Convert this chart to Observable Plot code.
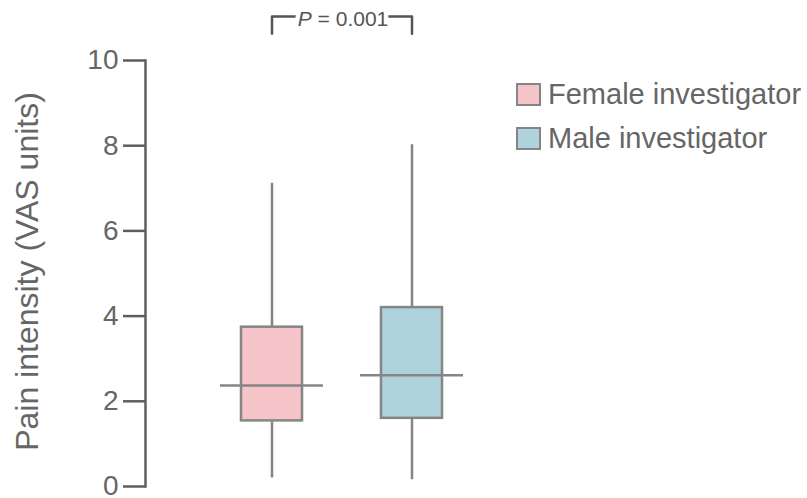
<!DOCTYPE html>
<html><head><meta charset="utf-8">
<script src="https://cdn.jsdelivr.net/npm/d3@7"></script>
<script src="https://cdn.jsdelivr.net/npm/@observablehq/plot@0.6"></script>
<style>
body{margin:0;background:#fff;font-family:"Liberation Sans",Arial,sans-serif;}
#wrap{position:relative;width:807px;height:498px;}
#legend{position:absolute;left:516px;top:72px;}
.item{display:flex;align-items:center;height:44px;font-size:29px;color:#666;white-space:nowrap;}
.sw{width:25px;height:23px;box-sizing:border-box;border:2.5px solid #858585;margin-right:7px;}
</style></head><body><div id="wrap"></div>
<script>
const groups = ["Female investigator", "Male investigator"];
const q1 = [1.54, 1.60];
const median = [2.37, 2.61];
const q3 = [3.74, 4.20];
const whiskerLow = [0.20, 0.16];
const whiskerHigh = [7.12, 8.02];
const colors = ["#f4c4c8", "#aed3dc"];
const yTicks = [0, 2, 4, 6, 8, 10];
const yLabel = "Pain intensity (VAS units)";
const pLabel = "P = 0.001";
const bracketY = [10.63, 11.03];
const pTextY = 10.97;

const boxes = groups.map((g, i) => ({
  group: g, q1: q1[i], median: median[i], q3: q3[i],
  lo: whiskerLow[i], hi: whiskerHigh[i]
}));
const bracket = [
  {x: groups[0], y: bracketY[0]},
  {x: groups[0], y: bracketY[1]},
  {x: groups[1], y: bracketY[1]},
  {x: groups[1], y: bracketY[0]}
];

const gray = "#858585";
const axisGray = "#5e5e5e";

const chart = Plot.plot({
  width: 807,
  height: 498,
  marginLeft: 145,
  marginTop: 60,
  marginBottom: 12,
  marginRight: 0,
  style: {fontFamily: "'Liberation Sans', Arial, sans-serif", background: "#fff", overflow: "visible"},
  x: {domain: groups, range: [219, 464], paddingInner: 0.262, paddingOuter: 0, axis: null},
  y: {domain: [0, 10], axis: null},
  color: {domain: groups, range: colors},
  marks: [
    Plot.frame({anchor: "left", stroke: axisGray, strokeWidth: 2.5, strokeLinecap: "square"}),
    Plot.axisY({ticks: yTicks, tickSize: 22, tickPadding: 5, fontSize: 28, stroke: axisGray, fill: "#666", strokeWidth: 2.5, label: null}),
    Plot.text([yLabel], {frameAnchor: "left", text: d => d, rotate: -90, textAnchor: "middle", lineAnchor: "middle", dx: -118, dy: -2, fontSize: 32, fill: "#666"}),
    Plot.ruleX(boxes, {x: "group", y1: "lo", y2: "hi", stroke: gray, strokeWidth: 2.5}),
    Plot.barY(boxes, {x: "group", y1: "q1", y2: "q3", fill: "group", stroke: gray, strokeWidth: 2.5, insetLeft: 21, insetRight: 21}),
    Plot.tickY(boxes, {x: "group", y: "median", stroke: gray, strokeWidth: 2.5}),
    Plot.line(bracket, {x: "x", y: "y", stroke: "#555", strokeWidth: 2.5, curve: "linear"}),
    Plot.text([pLabel], {x: () => groups[0], y: () => pTextY, text: d => d, dx: 71, fontSize: 21, fill: "#555", stroke: "white", strokeWidth: 9})
  ]
});

// italic P in the p-value label
d3.select(chart).selectAll("text").each(function() {
  if (this.textContent === pLabel) {
    const t = d3.select(this);
    t.text(null);
    t.append("tspan").attr("font-style", "italic").text(pLabel.slice(0, 1));
    t.append("tspan").text(pLabel.slice(1));
  }
});

const wrap = document.getElementById("wrap");
wrap.appendChild(chart);
const legend = document.createElement("div");
legend.id = "legend";
groups.forEach((g, i) => {
  const item = document.createElement("div");
  item.className = "item";
  const sw = document.createElement("span");
  sw.className = "sw";
  sw.style.background = colors[i];
  const lab = document.createElement("span");
  lab.textContent = g;
  item.appendChild(sw);
  item.appendChild(lab);
  legend.appendChild(item);
});
wrap.appendChild(legend);
</script></body></html>
